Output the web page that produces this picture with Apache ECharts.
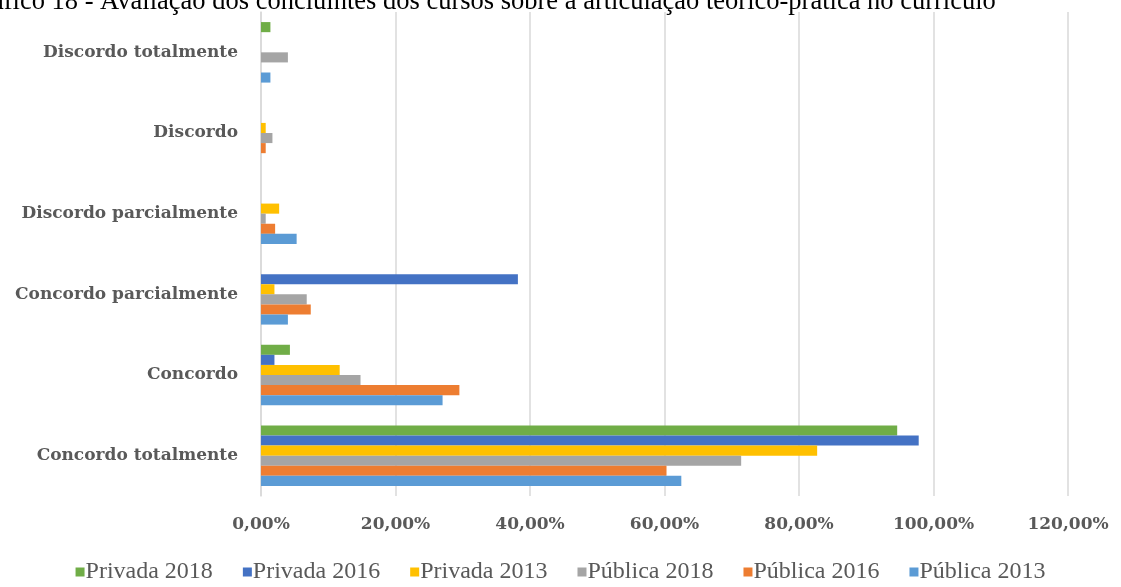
<!DOCTYPE html>
<html>
<head>
<meta charset="utf-8">
<script src="https://cdn.jsdelivr.net/npm/echarts@6/dist/echarts.min.js"></script>
<style>
  html, body { margin: 0; padding: 0; background: #fff; }
  #chart { width: 1121px; height: 587px; }
</style>
</head>
<body>
<div id="chart"></div>
<script>
// categories, bottom to top
const categories = ['Concordo totalmente', 'Concordo', 'Concordo parcialmente', 'Discordo parcialmente', 'Discordo', 'Discordo totalmente']

// values in %, same order as categories
const privada2018 = [94.6, 4.3, 0, 0, 0, 1.4]
const privada2016 = [97.8, 2.0, 38.2, 0, 0, 0]
const privada2013 = [82.7, 11.7, 2.0, 2.7, 0.7, 0]
const publica2018 = [71.4, 14.8, 6.8, 0.7, 1.7, 4.0]
const publica2016 = [60.3, 29.5, 7.4, 2.1, 0.7, 0]
const publica2013 = [62.5, 27.0, 4.0, 5.3, 0, 1.4]

// first series ends up on top of each group
const seriesNames = ['Privada 2018', 'Privada 2016', 'Privada 2013', 'Pública 2018', 'Pública 2016', 'Pública 2013']
const seriesData = [privada2018, privada2016, privada2013, publica2018, publica2016, publica2013]
const colors = ['#70AD47', '#4472C4', '#FFC000', '#A5A5A5', '#ED7D31', '#5B9BD5']

const textColor = '#595959'

let chart = echarts.init(document.getElementById('chart'))
chart.setOption({
  animation: false,
  graphic: [
    {
      type: 'text',
      left: -36,
      top: -11,
      style: {
        text: 'Gráfico 18 - Avaliação dos concluintes dos cursos sobre a articulação teórico-prática no currículo',
        font: '26.5px "Liberation Serif"',
        fill: '#000'
      }
    }
  ],
  legend: {
    bottom: -2,
    left: 'center',
    data: seriesNames,
    icon: 'rect',
    itemWidth: 9,
    itemHeight: 9,
    itemGap: 30,
    textStyle: {
      fontFamily: 'Liberation Serif',
      fontSize: 24,
      color: textColor,
      padding: [0, 0, 0, -4]
    }
  },
  grid: {
    left: 261,
    right: 53,
    top: 12,
    bottom: 91
  },
  xAxis: {
    type: 'value',
    min: 0,
    max: 120,
    interval: 20,
    axisLine: { show: false },
    axisTick: { show: false },
    splitLine: { lineStyle: { color: '#d9d9d9', width: 1.5 } },
    axisLabel: {
      margin: 20,
      fontFamily: 'DejaVu Serif',
      fontWeight: 'bold',
      fontSize: 17,
      color: textColor,
      formatter: v => v.toFixed(2).replace('.', ',') + '%'
    }
  },
  yAxis: {
    type: 'category',
    data: categories,
    axisLine: { lineStyle: { color: '#d9d9d9', width: 1.5 } },
    axisTick: { show: false },
    axisLabel: {
      margin: 23,
      fontFamily: 'DejaVu Serif',
      fontWeight: 'bold',
      fontSize: 17,
      color: textColor
    }
  },
  series: seriesNames.map((name, i) => ({
    name: name,
    type: 'bar',
    data: seriesData[i],
    barGap: '0%',
    barCategoryGap: '25%',
    itemStyle: { color: colors[i] }
  }))
})
</script>
</body>
</html>
